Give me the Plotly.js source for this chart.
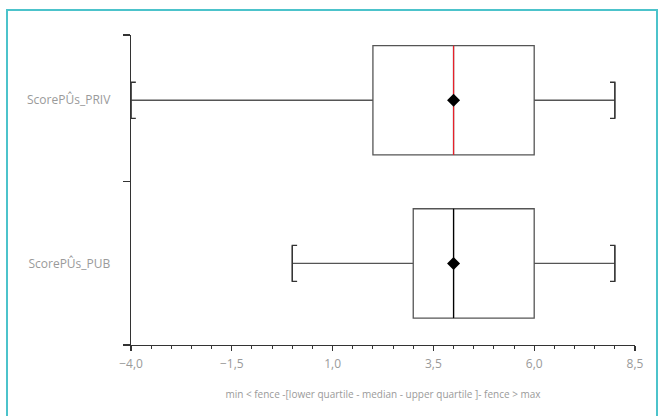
<!DOCTYPE html>
<html>
<head>
<meta charset="utf-8">
<script src="https://cdn.plot.ly/plotly-3.0.1.min.js"></script>
<style>
  html, body { margin: 0; padding: 0; background: #fff; }
  #wrap { position: relative; width: 662px; height: 416px; overflow: hidden; }
  #chart { position: absolute; left: 0; top: 0; width: 662px; height: 416px; }
  #frame { position: absolute; left: 6px; top: 9px; width: 648px; height: 420px;
           border: 2px solid #4cc3cb; pointer-events: none; }
</style>
</head>
<body>
<div id="wrap"><div id="chart"></div><div id="frame"></div></div>
<script>
// ---- data ----
const categories = ["ScorePÛs_PUB", "ScorePÛs_PRIV"];
const positions  = [0, 1];
const minVals    = [0, -4];
const q1Vals     = [3, 2];
const medianVals = [4, 4];
const q3Vals     = [6, 6];
const maxVals    = [8, 8];
const meanVals   = [4, 4];
const xTickVals  = [-4, -1.5, 1, 3.5, 6, 8.5];

// ---- styles ----
const boxLine = '#555';
const medianColors = ['#000000', '#e8202a'];
const boxWidth = 0.67;
const serif = 0.12;
const capHalf = boxWidth * 0.33 / 2;
const gray = '#9a9a9a';
const font = '"Open Sans", Lato, sans-serif';

const traces = [];
positions.forEach((p, i) => {
  traces.push({
    type: 'box', orientation: 'h',
    y: [p], q1: [q1Vals[i]], median: [medianVals[i]], q3: [q3Vals[i]],
    lowerfence: [minVals[i]], upperfence: [maxVals[i]],
    boxpoints: false, width: boxWidth, whiskerwidth: 0.33,
    line: { color: boxLine, width: 1.3 }, fillcolor: 'rgba(255,255,255,0)',
    hoverinfo: 'skip', showlegend: false
  });
  traces.push({
    type: 'scatter', mode: 'lines', hoverinfo: 'skip', showlegend: false,
    x: [minVals[i] + serif, minVals[i], minVals[i], minVals[i] + serif, null,
        maxVals[i] - serif, maxVals[i], maxVals[i], maxVals[i] - serif],
    y: [p + capHalf, p + capHalf, p - capHalf, p - capHalf, null,
        p + capHalf, p + capHalf, p - capHalf, p - capHalf],
    line: { color: '#333', width: 1.3 }
  });
  traces.push({
    type: 'scatter', mode: 'lines', hoverinfo: 'skip', showlegend: false,
    x: [medianVals[i], medianVals[i]],
    y: [p - boxWidth / 2, p + boxWidth / 2],
    line: { color: medianColors[i], width: 1.2 }
  });
});
traces.push({
  type: 'scatter', mode: 'markers', hoverinfo: 'skip', showlegend: false,
  x: meanVals, y: positions,
  marker: { symbol: 'diamond', size: 10, color: '#000' }
});

const layout = {
  width: 662, height: 416,
  margin: { l: 131, r: 27, t: 35, b: 71 },
  paper_bgcolor: '#fff', plot_bgcolor: '#fff',
  separators: ', ',
  font: { family: font, color: gray, size: 12 },
  showlegend: false,
  xaxis: {
    range: [-4, 8.5], tickvals: xTickVals, tickformat: '.1f',
    showgrid: false, zeroline: false,
    showline: true, linecolor: '#333', linewidth: 1.3,
    ticks: 'outside', ticklen: 5, tickcolor: '#333', tickwidth: 1.2,
    ticklabelstandoff: 2,
    tickfont: { family: font, size: 12, color: gray },
    minor: { dtick: 0.5, tick0: -4, ticks: 'outside', ticklen: 3, tickcolor: '#333', tickwidth: 1, showgrid: false },
    title: { text: 'min &lt; fence -[lower quartile - median - upper quartile ]- fence &gt; max',
             font: { family: font, size: 10, color: gray }, standoff: 20 }
  },
  yaxis: {
    range: [-0.5, 1.4], tickmode: 'array', tickvals: positions, ticktext: categories,
    showgrid: false, zeroline: false,
    showline: true, linecolor: '#333', linewidth: 1.3,
    ticks: '', ticklabelstandoff: 17,
    tickfont: { family: font, size: 12, color: gray },
    minor: { tickmode: 'array', tickvals: [-0.5, 0.5, 1.4], ticks: 'outside', ticklen: 7,
             tickcolor: '#333', tickwidth: 1.3, showgrid: false }
  }
};

Plotly.newPlot('chart', traces, layout, { displayModeBar: false, staticPlot: true });
</script>
</body>
</html>
